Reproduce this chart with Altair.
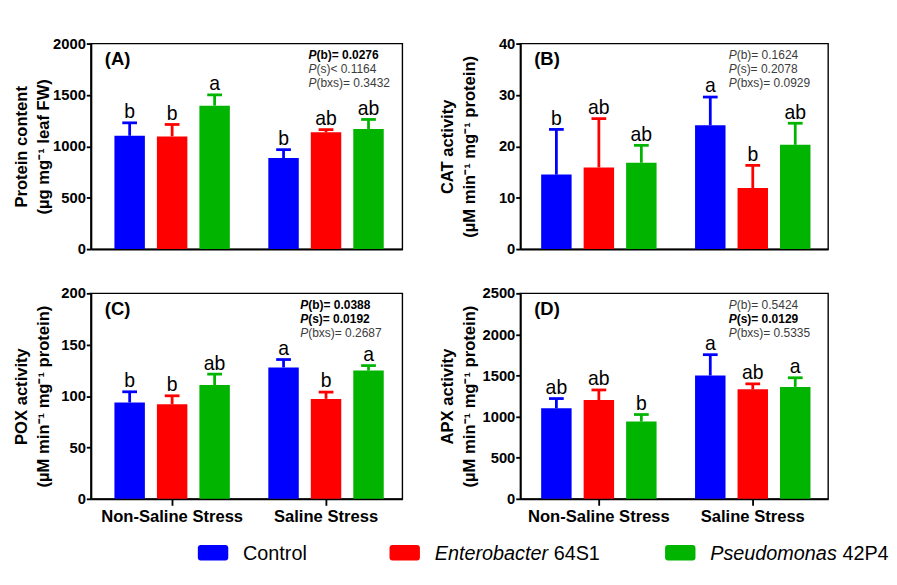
import altair as alt
import pandas as pd

FONT = "Liberation Sans"

groups = ["Non-Saline Stress", "Saline Stress"]
treatments = ["Control", "Enterobacter 64S1", "Pseudomonas 42P4"]
colors = ["#0000ff", "#ff0000", "#00b400"]

# order: NS-Control, NS-Entero, NS-Pseudo, S-Control, S-Entero, S-Pseudo
protein_mean = [1103, 1097, 1396, 886, 1137, 1168]
protein_top = [1229, 1213, 1500, 968, 1163, 1262]
protein_letters = ["b", "b", "a", "b", "ab", "ab"]

cat_mean = [14.5, 15.9, 16.8, 24.1, 11.9, 20.3]
cat_top = [23.3, 25.4, 20.2, 29.6, 16.3, 24.5]
cat_letters = ["b", "ab", "ab", "a", "b", "ab"]

pox_mean = [93.8, 92.0, 110.8, 127.9, 97.3, 124.8]
pox_top = [104.2, 100.3, 121.3, 135.6, 103.9, 129.7]
pox_letters = ["b", "b", "ab", "a", "b", "a"]

apx_mean = [1101, 1202, 940, 1500, 1332, 1362]
apx_top = [1220, 1325, 1026, 1754, 1399, 1473]
apx_letters = ["ab", "ab", "b", "a", "ab", "a"]

stats_A = ["(b)= 0.0276", "(s)< 0.1164", "(bxs)= 0.3432"]
bold_A = [True, False, False]
stats_B = ["(b)= 0.1624", "(s)= 0.2078", "(bxs)= 0.0929"]
bold_B = [False, False, False]
stats_C = ["(b)= 0.0388", "(s)= 0.0192", "(bxs)= 0.2687"]
bold_C = [True, True, False]
stats_D = ["(b)= 0.5424", "(s)= 0.0129", "(bxs)= 0.5335"]
bold_D = [False, True, False]

titles_A = ["Protein content", "(µg mg⁻¹ leaf FW)"]
titles_B = ["CAT activity", "(µM min⁻¹ mg⁻¹ protein)"]
titles_C = ["POX activity", "(µM min⁻¹ mg⁻¹ protein)"]
titles_D = ["APX activity", "(µM min⁻¹ mg⁻¹ protein)"]

PLOT_H = 223
ONE = pd.DataFrame({"k": [0]})


def panel(tag, mean, top, letters, ymax, ystep, title, stats, bold,
          bottom, width, pad_outer, align, title_x, stats_x):
    df = pd.DataFrame({
        "group": [g for g in groups for _ in treatments],
        "treatment": treatments * 2,
        "mean": mean,
        "top": top,
        "letter": letters,
    })
    if bottom:
        xaxis = alt.Axis(title=None, labelAngle=0, labelFontSize=18, labelFontWeight="bold",
                         labelColor="black", labelFont=FONT, tickSize=7, tickWidth=2,
                         tickColor="black", labelPadding=4, domainColor="black", domainWidth=2)
    else:
        xaxis = alt.Axis(title=None, labels=False, ticks=False, domainColor="black", domainWidth=2)
    x = alt.X("group:N", sort=groups,
              scale=alt.Scale(paddingInner=0.25, paddingOuter=pad_outer, align=align), axis=xaxis)
    xo = alt.XOffset("treatment:N", sort=treatments,
                     scale=alt.Scale(paddingInner=0.283, paddingOuter=0))
    color = alt.Color("treatment:N", sort=treatments,
                      scale=alt.Scale(domain=treatments, range=colors), legend=None)
    yaxis = alt.Axis(values=list(range(0, ymax + 1, ystep)), format="d", title=title,
                     titleX=title_x, titleBaseline="top", titleLineHeight=24, titleFontSize=18,
                     titleFontWeight="bold", titleColor="black", titleFont=FONT,
                     labelFontSize=16, labelFontWeight="bold", labelColor="black", labelFont=FONT,
                     tickSize=5, tickWidth=2, tickColor="black", labelPadding=1,
                     domainColor="black", domainWidth=2, grid=False)
    yscale = alt.Scale(domain=[0, ymax], nice=False)
    base = alt.Chart(df)
    bars = base.mark_bar().encode(
        x=x, xOffset=xo, y=alt.Y("mean:Q", scale=yscale, axis=yaxis), color=color)
    err = base.mark_rule(strokeWidth=3).encode(
        x=x, xOffset=xo, y=alt.Y("mean:Q", scale=yscale, axis=yaxis), y2="top:Q", color=color)
    cap = base.mark_tick(size=16, thickness=3, opacity=1).encode(
        x=x, xOffset=xo, y=alt.Y("top:Q", scale=yscale, axis=yaxis), color=color)
    lab = base.mark_text(fontSize=21, dy=-5, baseline="alphabetic", color="black", font=FONT).encode(
        x=x, xOffset=xo, y=alt.Y("top:Q", scale=yscale, axis=yaxis), text="letter:N")
    layers = [bars, err, cap, lab]
    layers.append(
        alt.Chart(ONE).mark_text(text=tag, fontSize=20, fontWeight="bold", align="left",
                                 baseline="alphabetic", color="black", font=FONT)
        .encode(x=alt.value(15), y=alt.value(23)))
    for j, (rest, b) in enumerate(zip(stats, bold)):
        col = "black" if b else "#3c3c3c"
        fw = "bold" if b else "normal"
        yy = 17 + 15 * j
        layers.append(
            alt.Chart(ONE).mark_text(text="P", fontSize=13, fontStyle="italic", fontWeight=fw,
                                     align="left", baseline="alphabetic", color=col, font=FONT)
            .encode(x=alt.value(stats_x), y=alt.value(yy)))
        layers.append(
            alt.Chart(ONE).mark_text(text=rest, fontSize=13, fontWeight=fw, align="left",
                                     baseline="alphabetic", color=col, font=FONT)
            .encode(x=alt.value(stats_x + 8.7), y=alt.value(yy)))
    return alt.layer(*layers).properties(width=width, height=PLOT_H)


A = panel("(A)", protein_mean, protein_top, protein_letters, 2000, 500, titles_A, stats_A, bold_A,
          False, 338, 0.137, 0.557, -84, 236)
B = panel("(B)", cat_mean, cat_top, cat_letters, 40, 10, titles_B, stats_B, bold_B,
          False, 334, 0.125, 0.54, -88, 226)
C = panel("(C)", pox_mean, pox_top, pox_letters, 200, 50, titles_C, stats_C, bold_C,
          True, 338, 0.137, 0.557, -84, 227)
D = panel("(D)", apx_mean, apx_top, apx_letters, 2500, 500, titles_D, stats_D, bold_D,
          True, 334, 0.125, 0.54, -88, 226)

# legend (custom, to allow italic genus names)
legend_italic = ["", "Enterobacter", "Pseudomonas"]
legend_regular = ["Control", "64S1", "42P4"]
LEG_X = [116, 324, 623]
LEG_FS = 21.5
italic_em = {"": 0.0, "Enterobacter": 5.725, "Pseudomonas": 6.392}
leg_layers = []
for i in range(3):
    leg_layers.append(
        alt.Chart(ONE).mark_rect(cornerRadius=3)
        .encode(x=alt.value(LEG_X[i]), x2=alt.value(LEG_X[i] + 33),
                y=alt.value(4), y2=alt.value(21), color=alt.value(colors[i])))
    tx = LEG_X[i] + 49
    if legend_italic[i]:
        leg_layers.append(
            alt.Chart(ONE).mark_text(text=legend_italic[i], fontSize=LEG_FS, fontStyle="italic",
                                     align="left", baseline="alphabetic", color="black", font=FONT)
            .encode(x=alt.value(tx), y=alt.value(20)))
        tx += italic_em[legend_italic[i]] * LEG_FS + 6
    leg_layers.append(
        alt.Chart(ONE).mark_text(text=legend_regular[i], fontSize=LEG_FS, align="left",
                                 baseline="alphabetic", color="black", font=FONT)
        .encode(x=alt.value(tx), y=alt.value(20)))
legend = alt.layer(*leg_layers).properties(width=860, height=24,
                                           view=alt.ViewBackground(stroke=None))

top = alt.vconcat(alt.hconcat(A, B, spacing=38), alt.hconcat(C, D, spacing=38), spacing=30)
chart = alt.vconcat(top, legend, spacing=16).properties(
    padding={"left": 5, "top": 5, "right": 0, "bottom": 0}
).configure(font=FONT).configure_view(stroke="black", strokeWidth=1.5)

chart.save("out.html", embed_options={"renderer": "svg", "actions": False})
